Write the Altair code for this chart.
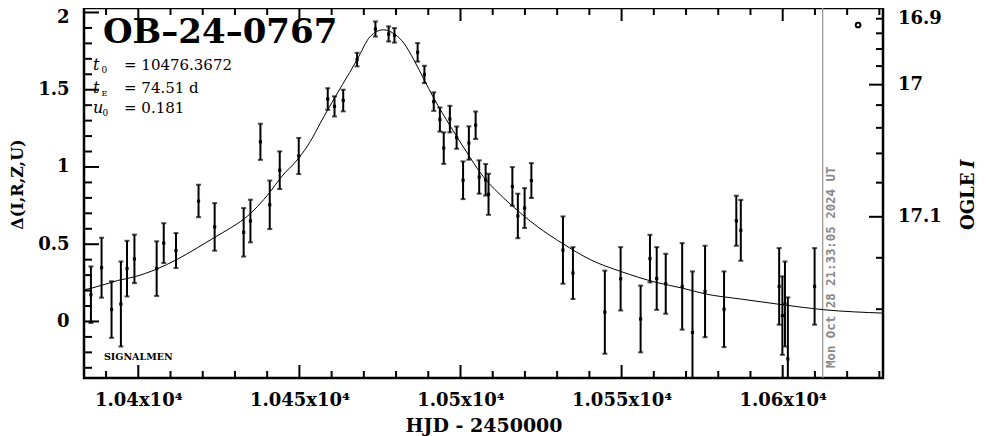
import altair as alt
import pandas as pd

# ---------------- data ----------------
hjd = [10385.3, 10388.6, 10391.7, 10394.6, 10396.5, 10398.8, 10405.7, 10407.9, 10411.7, 10418.7,
       10423.7, 10432.7, 10434.8, 10437.9, 10440.8, 10443.9, 10449.8, 10458.8, 10460.9, 10463.6,
       10467.9, 10473.6, 10477.7, 10479.5, 10486.7, 10488.8, 10491.7, 10493.6, 10494.8, 10496.7,
       10498.8, 10500.8, 10502.6, 10504.7, 10505.8, 10507.8, 10508.7, 10516.1, 10517.8, 10519.9,
       10522.0, 10531.8, 10534.9, 10544.8, 10549.7, 10555.9, 10558.8, 10560.9, 10563.7, 10568.8,
       10572.0, 10575.9, 10581.8, 10585.6, 10587.0, 10598.9, 10599.9, 10600.7, 10601.6, 10609.9]
delta = [0.173, 0.348, 0.077, 0.113, 0.342, 0.405, 0.342, 0.507, 0.459, 0.780,
         0.612, 0.577, 0.650, 1.163, 0.755, 0.979, 1.071, 1.440, 1.392, 1.430,
         1.695, 1.893, 1.861, 1.852, 1.742, 1.599, 1.423, 1.307, 1.122, 1.310,
         1.190, 0.914, 1.155, 1.270, 0.935, 0.917, 0.823, 0.874, 0.683, 0.734,
         0.912, 0.462, 0.313, 0.060, 0.276, 0.016, 0.407, 0.278, 0.244, 0.227,
         -0.071, 0.194, 0.079, 0.652, 0.590, 0.227, 0.038, 0.113, -0.243, 0.227]
err = [0.183, 0.194, 0.183, 0.275, 0.180, 0.157, 0.177, 0.129, 0.113, 0.105,
       0.154, 0.157, 0.138, 0.117, 0.157, 0.122, 0.117, 0.070, 0.065, 0.070,
       0.044, 0.049, 0.049, 0.047, 0.060, 0.056, 0.060, 0.078, 0.102, 0.086,
       0.072, 0.122, 0.108, 0.089, 0.108, 0.102, 0.133, 0.125, 0.144, 0.129,
       0.113, 0.218, 0.168, 0.269, 0.205, 0.216, 0.154, 0.203, 0.194, 0.280,
       0.395, 0.296, 0.245, 0.162, 0.197, 0.248, 0.254, 0.275, 0.399, 0.248]

model_hjd = [10383.2, 10385.6, 10393.6, 10398.8, 10405.7, 10411.8, 10418.2, 10423.6, 10428.6,
             10432.9, 10441.0, 10444.1, 10449.8, 10453.4, 10456.5, 10458.8, 10467.9, 10472.0,
             10476.1, 10479.8, 10482.4, 10485.5, 10488.6, 10491.7, 10496.9, 10502.1, 10506.2,
             10513.4, 10518.6, 10523.8, 10531.8, 10540.4, 10549.7, 10560.9, 10568.8, 10575.8,
             10587.0, 10600.0, 10612.7, 10631.3]
model_delta = [0.205, 0.216, 0.265, 0.289, 0.339, 0.399, 0.475, 0.543, 0.605,
               0.665, 0.841, 0.928, 1.058, 1.165, 1.284, 1.370, 1.694, 1.845,
               1.888, 1.856, 1.802, 1.694, 1.569, 1.446, 1.262, 1.090, 0.961,
               0.799, 0.702, 0.615, 0.503, 0.399, 0.324, 0.252, 0.216, 0.179,
               0.145, 0.108, 0.076, 0.054]

now_hjd = [10612.4]          # Mon Oct 28 21:33:05 2024 UT
legend_hjd = [10623.4]
legend_delta = [1.919]

x_major = [10400, 10450, 10500, 10550, 10600]
x_minor = [10390, 10410, 10420, 10430, 10440, 10460, 10470, 10480, 10490, 10510, 10520,
           10530, 10540, 10560, 10570, 10580, 10590, 10610, 10620, 10630]
y_major = [0, 0.5, 1, 1.5, 2]
y_minor = [-0.3, -0.2, -0.1, 0.1, 0.2, 0.3, 0.4, 0.6, 0.7, 0.8, 0.9, 1.1, 1.2, 1.3, 1.4,
           1.6, 1.7, 1.8, 1.9]
mag_major = [16.9, 17.0, 17.1]
mag_minor = [16.92, 16.94, 16.96, 16.98, 17.02, 17.04, 17.06, 17.08, 17.12, 17.14]

# ---------------- layout / scales ----------------
W, H = 799, 370
X_DOM = [10383.15, 10631.13]
Y_DOM = [-0.366, 2.029]
# right-hand OGLE I axis relation: delta = A + B*ln(M0 - I)
M0, A_, B_ = 17.21, 3.597, 1.3227
MAG_TO_DELTA = f"{A_} + {B_} * log({M0} - datum.mag)"

FONT = "DejaVu Serif"
xs = alt.Scale(domain=X_DOM, nice=False, zero=False)
ys = alt.Scale(domain=Y_DOM, nice=False, zero=False)

x_axis = alt.Axis(values=x_major, labelExpr="format(datum.value/10000, '.4~g') + 'x10⁴'",
                  ticks=False, domain=False, grid=False, labelFlush=False, labelOverlap=False,
                  labelFont=FONT, labelFontSize=18, labelFontWeight="bold", labelColor="black",
                  labelPadding=13, title="HJD - 2450000", titleFont=FONT, titleFontSize=19,
                  titleFontWeight="bold", titleColor="black", titleY=47, titleBaseline="middle")
y_axis = alt.Axis(values=y_major, format="~g", ticks=False, domain=False, grid=False,
                  labelFlush=False, labelOverlap=False,
                  labelFont=FONT, labelFontSize=18, labelFontWeight="bold", labelColor="black",
                  labelPadding=15,
                  labelOffset={"condition": {"test": "datum.value == 2", "value": 5}, "value": 0},
                  title="Δ(I,R,Z,U)", titleFont=FONT, titleFontSize=16,
                  titleFontWeight="bold", titleColor="black", titleAngle=270, titleX=-67,
                  titleY=176, titleBaseline="middle")


def X(field):
    return alt.X(field, scale=xs, axis=x_axis)


def Y(field):
    return alt.Y(field, scale=ys, axis=y_axis)


pts = pd.DataFrame({"hjd": hjd, "delta": delta, "err": err})
pts["lo"] = pts["delta"] - pts["err"]
pts["hi"] = pts["delta"] + pts["err"]
model = pd.DataFrame({"hjd": model_hjd, "delta": model_delta})

bars = alt.Chart(pts).mark_rule(color="black", strokeWidth=2, clip=True).encode(
    x=X("hjd:Q"), y=Y("lo:Q"), y2="hi:Q")
cap_lo = alt.Chart(pts).mark_tick(color="black", orient="horizontal", size=5, thickness=2,
                                  clip=True).encode(x=X("hjd:Q"), y=Y("lo:Q"))
cap_hi = alt.Chart(pts).mark_tick(color="black", orient="horizontal", size=5, thickness=2,
                                  clip=True).encode(x=X("hjd:Q"), y=Y("hi:Q"))
dots = alt.Chart(pts).mark_square(color="black", size=10, opacity=1).encode(
    x=X("hjd:Q"), y=Y("delta:Q"))
curve = alt.Chart(model).mark_line(color="black", strokeWidth=1, interpolate="monotone",
                                   clip=True).encode(x=X("hjd:Q"), y=Y("delta:Q"))
now_line = alt.Chart(pd.DataFrame({"hjd": now_hjd})).mark_rule(
    color="#999999", strokeWidth=1.3).encode(x=X("hjd:Q"))
legend_pt = alt.Chart(pd.DataFrame({"hjd": legend_hjd, "delta": legend_delta})).mark_point(
    shape="circle", size=22, strokeWidth=2, color="black", filled=False, opacity=1).encode(
    x=X("hjd:Q"), y=Y("delta:Q"))


def xticks(vals, y0, y1):
    return alt.Chart(pd.DataFrame({"t": vals})).mark_rule(color="black", strokeWidth=2).encode(
        x=X("t:Q"), y=alt.value(y0), y2=alt.value(y1))


def yticks(vals, x0, x1):
    return alt.Chart(pd.DataFrame({"v": vals})).mark_rule(color="black", strokeWidth=2).encode(
        y=Y("v:Q"), x=alt.value(x0), x2=alt.value(x1))


def rticks(vals, length):
    return alt.Chart(pd.DataFrame({"mag": vals})).transform_calculate(
        d=MAG_TO_DELTA).mark_rule(color="black", strokeWidth=2, clip=True).encode(
        y=Y("d:Q"), x=alt.value(W), x2=alt.value(W - length))


def rlabels(test, dy):
    return alt.Chart(pd.DataFrame({"mag": mag_major})).transform_filter(test).transform_calculate(
        d=MAG_TO_DELTA).mark_text(font=FONT, fontSize=18, fontWeight="bold", align="left",
                                  baseline="middle", color="black", dy=dy).encode(
        y=Y("d:Q"), x=alt.value(W + 15), text=alt.Text("mag:Q", format="~g"))


def label(txt, x, y, size, font=FONT, **kw):
    props = dict(text=txt, fontSize=size, font=font, align="left", baseline="alphabetic",
                 color="black")
    props.update(kw)
    return alt.Chart(alt.Data(values=[{}])).mark_text(**props).encode(
        x=alt.value(x), y=alt.value(y))


texts = [
    label("OB–24–0767", 19, 34.7, 34, fontWeight="bold"),
    label("t", 9, 62, 16, fontStyle="italic"),
    label("0", 17.5, 65, 9),
    label("= 10476.3672", 40, 62, 15),
    label("t", 9, 85, 16, fontStyle="italic"),
    label("E", 17.5, 88, 8),
    label("= 74.51 d", 40, 85, 15),
    label("u", 9, 105.3, 16, fontStyle="italic"),
    label("0", 18.5, 108.3, 9),
    label("= 0.181", 40, 105.3, 15),
    label("SIGNALMEN", 20, 352, 9.5, fontWeight="bold"),
    label("Mon Oct 28 21:33:05 2024 UT", 747, 360, 12.4, font="DejaVu Sans Mono",
          fontWeight="bold", angle=270, baseline="middle", color="#888888"),
    label("OGLE ", 885, 222, 18, fontWeight="bold", angle=270, baseline="middle"),
    label("I", 885, 160, 18, fontWeight="bold", fontStyle="italic", angle=270,
          baseline="middle"),
]

chart = alt.layer(
    bars, now_line, curve, cap_lo, cap_hi, dots, legend_pt,
    xticks(x_major, H, H - 13), xticks(x_minor, H, H - 7),
    xticks(x_major, 0, 13), xticks(x_minor, 0, 7),
    yticks(y_major, 0, 15), yticks(y_minor, 0, 8),
    rticks(mag_major, 14), rticks(mag_minor, 7),
    rlabels("datum.mag > 16.95", 0), rlabels("datum.mag < 16.95", 14),
    *texts,
).properties(
    width=W, height=H,
    autosize=alt.AutoSizeParams(type="none"),
    padding={"left": 76, "top": 0, "right": 95, "bottom": 58},
    background="white",
).configure_view(stroke="black", strokeWidth=2.5)

chart.save("out.html", embed_options={"renderer": "svg", "actions": False})
